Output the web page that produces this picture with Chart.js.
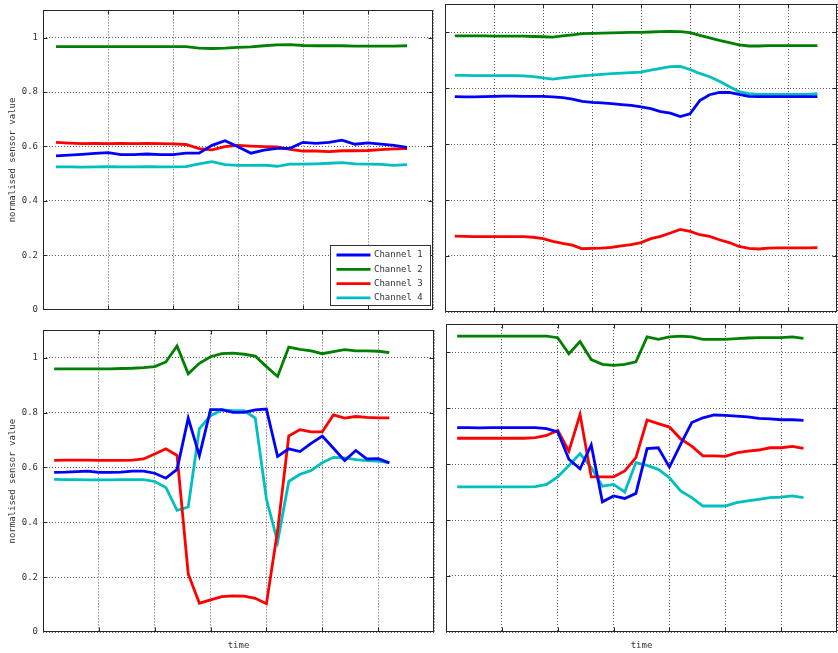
<!DOCTYPE html>
<html>
<head>
<meta charset="utf-8">
<script src="https://cdn.jsdelivr.net/npm/chart.js@4.4.1/dist/chart.umd.min.js"></script>
<style>
  html, body { margin: 0; padding: 0; background: #fff; }
  body { width: 838px; height: 653px; position: relative; overflow: hidden; }
  .panel { position: absolute; }
</style>
</head>
<body>
<div class="panel" id="p1" style="left:0;top:0;width:440px;height:320px"><canvas id="c1"></canvas></div>
<div class="panel" id="p2" style="left:440px;top:0;width:398px;height:320px"><canvas id="c2"></canvas></div>
<div class="panel" id="p3" style="left:0;top:320px;width:440px;height:333px"><canvas id="c3"></canvas></div>
<div class="panel" id="p4" style="left:440px;top:320px;width:398px;height:333px"><canvas id="c4"></canvas></div>
<script>
// channel names / colours
const channelLabels = ["Channel 1", "Channel 2", "Channel 3", "Channel 4"];
const channelColors = ["#0000ff", "#008000", "#ff0000", "#00bfbf"];

// y axis ticks
const yMin = 0;
const yMax = 1.1;
const yStep = 0.2;
const xStep = 5;

// panel 1 (top left), samples 1..28
const tlCh1 = [0.565, 0.568, 0.571, 0.574, 0.577, 0.570, 0.570, 0.572, 0.570, 0.570, 0.575, 0.575, 0.604, 0.621, 0.599, 0.575, 0.586, 0.593, 0.593, 0.615, 0.611, 0.615, 0.623, 0.608, 0.613, 0.608, 0.604, 0.596];
const tlCh2 = [0.967, 0.967, 0.967, 0.967, 0.967, 0.967, 0.967, 0.967, 0.967, 0.967, 0.967, 0.961, 0.960, 0.961, 0.964, 0.966, 0.970, 0.973, 0.974, 0.971, 0.970, 0.970, 0.970, 0.969, 0.969, 0.969, 0.969, 0.970];
const tlCh3 = [0.615, 0.612, 0.610, 0.611, 0.610, 0.611, 0.610, 0.611, 0.610, 0.609, 0.607, 0.592, 0.587, 0.599, 0.604, 0.601, 0.599, 0.598, 0.589, 0.583, 0.583, 0.581, 0.584, 0.584, 0.585, 0.588, 0.591, 0.592];
const tlCh4 = [0.525, 0.525, 0.524, 0.525, 0.526, 0.525, 0.525, 0.526, 0.525, 0.525, 0.526, 0.536, 0.544, 0.533, 0.530, 0.530, 0.531, 0.527, 0.535, 0.535, 0.536, 0.538, 0.540, 0.536, 0.535, 0.534, 0.530, 0.533];

// panel 2 (top right), samples 1..38
const trCh1 = [0.769, 0.768, 0.768, 0.769, 0.770, 0.771, 0.771, 0.770, 0.770, 0.770, 0.768, 0.766, 0.760, 0.752, 0.749, 0.747, 0.744, 0.741, 0.738, 0.733, 0.726, 0.716, 0.710, 0.698, 0.708, 0.755, 0.776, 0.784, 0.784, 0.777, 0.770, 0.769, 0.769, 0.769, 0.769, 0.769, 0.769, 0.769];
const trCh2 = [0.986, 0.986, 0.986, 0.986, 0.985, 0.985, 0.985, 0.985, 0.984, 0.983, 0.982, 0.986, 0.990, 0.994, 0.995, 0.996, 0.997, 0.998, 0.999, 0.999, 1.000, 1.001, 1.002, 1.001, 0.998, 0.988, 0.979, 0.970, 0.962, 0.954, 0.950, 0.950, 0.951, 0.951, 0.951, 0.951, 0.951, 0.951];
const trCh3 = [0.271, 0.270, 0.269, 0.269, 0.269, 0.269, 0.269, 0.269, 0.267, 0.262, 0.252, 0.245, 0.239, 0.226, 0.227, 0.228, 0.231, 0.236, 0.241, 0.248, 0.262, 0.270, 0.282, 0.295, 0.288, 0.276, 0.270, 0.258, 0.248, 0.234, 0.227, 0.225, 0.228, 0.229, 0.229, 0.229, 0.229, 0.230];
const trCh4 = [0.845, 0.845, 0.844, 0.844, 0.844, 0.844, 0.844, 0.843, 0.841, 0.836, 0.832, 0.836, 0.840, 0.843, 0.846, 0.849, 0.851, 0.853, 0.855, 0.857, 0.864, 0.870, 0.876, 0.877, 0.866, 0.852, 0.840, 0.824, 0.805, 0.787, 0.780, 0.777, 0.777, 0.777, 0.777, 0.777, 0.777, 0.780];

// panel 3 (bottom left), samples 1..31
const blCh1 = [0.582, 0.583, 0.585, 0.587, 0.582, 0.582, 0.583, 0.587, 0.587, 0.579, 0.561, 0.593, 0.780, 0.643, 0.811, 0.811, 0.801, 0.801, 0.810, 0.813, 0.640, 0.668, 0.658, 0.688, 0.715, 0.670, 0.625, 0.662, 0.631, 0.632, 0.617];
const blCh2 = [0.960, 0.960, 0.960, 0.960, 0.960, 0.960, 0.961, 0.962, 0.964, 0.968, 0.985, 1.043, 0.942, 0.980, 1.004, 1.015, 1.017, 1.013, 1.006, 0.968, 0.932, 1.039, 1.031, 1.025, 1.015, 1.023, 1.030, 1.025, 1.025, 1.024, 1.019];
const blCh3 = [0.626, 0.627, 0.627, 0.627, 0.626, 0.626, 0.626, 0.627, 0.631, 0.649, 0.668, 0.644, 0.212, 0.105, 0.117, 0.129, 0.132, 0.131, 0.123, 0.103, 0.370, 0.715, 0.738, 0.730, 0.730, 0.792, 0.780, 0.786, 0.783, 0.781, 0.781];
const blCh4 = [0.557, 0.556, 0.556, 0.555, 0.555, 0.555, 0.556, 0.556, 0.556, 0.549, 0.527, 0.444, 0.456, 0.742, 0.789, 0.810, 0.807, 0.807, 0.780, 0.485, 0.329, 0.549, 0.575, 0.589, 0.617, 0.637, 0.635, 0.629, 0.625, 0.623, 0.618];

// panel 4 (bottom right), samples 1..32
const brCh1 = [0.730, 0.730, 0.729, 0.730, 0.730, 0.730, 0.730, 0.730, 0.726, 0.715, 0.617, 0.583, 0.668, 0.465, 0.486, 0.477, 0.495, 0.655, 0.658, 0.589, 0.670, 0.748, 0.765, 0.775, 0.774, 0.771, 0.768, 0.763, 0.761, 0.758, 0.758, 0.756];
const brCh2 = [1.057, 1.057, 1.057, 1.057, 1.057, 1.057, 1.057, 1.057, 1.057, 1.051, 0.994, 1.037, 0.973, 0.956, 0.952, 0.956, 0.965, 1.054, 1.045, 1.054, 1.057, 1.054, 1.045, 1.045, 1.045, 1.048, 1.050, 1.051, 1.051, 1.051, 1.054, 1.049];
const brCh3 = [0.692, 0.692, 0.692, 0.692, 0.692, 0.692, 0.692, 0.694, 0.702, 0.720, 0.646, 0.777, 0.554, 0.554, 0.554, 0.575, 0.623, 0.757, 0.744, 0.732, 0.690, 0.664, 0.629, 0.629, 0.627, 0.640, 0.646, 0.650, 0.658, 0.658, 0.663, 0.656];
const brCh4 = [0.518, 0.518, 0.518, 0.518, 0.518, 0.518, 0.518, 0.519, 0.527, 0.554, 0.595, 0.637, 0.587, 0.521, 0.527, 0.500, 0.605, 0.595, 0.581, 0.551, 0.504, 0.480, 0.450, 0.450, 0.450, 0.462, 0.468, 0.474, 0.480, 0.482, 0.486, 0.480];

const yTitle = "normalised sensor value";
const xTitle = "time";

Chart.defaults.font.family = "'DejaVu Sans Mono', 'Liberation Mono', monospace";
Chart.defaults.font.size = 9;
Chart.defaults.color = "#333";

// MATLAB-like box with inward ticks on all four sides
const boxPlugin = {
  id: "axesBox",
  afterDraw(chart) {
    const { ctx, chartArea: a, scales } = chart;
    const L = Math.round(a.left) + 0.5, R = Math.round(a.right) - 0.5;
    const T = Math.round(a.top) + 0.5, B = Math.round(a.bottom) - 0.5;
    ctx.save();
    ctx.strokeStyle = "#262626";
    ctx.lineWidth = 1;
    ctx.beginPath();
    scales.x.ticks.forEach((t) => {
      if (t.value <= scales.x.min || t.value >= scales.x.max) return;
      const px = Math.round(scales.x.getPixelForValue(t.value)) + 0.5;
      ctx.moveTo(px, B); ctx.lineTo(px, B - 4);
      ctx.moveTo(px, T); ctx.lineTo(px, T + 4);
    });
    scales.y.ticks.forEach((t) => {
      if (t.value <= scales.y.min || t.value >= scales.y.max) return;
      const py = Math.round(scales.y.getPixelForValue(t.value)) + 0.5;
      ctx.moveTo(L, py); ctx.lineTo(L + 4, py);
      ctx.moveTo(R, py); ctx.lineTo(R - 4, py);
    });
    ctx.stroke();
    ctx.strokeRect(L, T, R - L, B - T);
    ctx.restore();
  },
};

// legend box in lower right of the chart area
const legendPlugin = {
  id: "insideLegend",
  afterDraw(chart, args, opts) {
    if (!opts.show) return;
    const { ctx, chartArea: a } = chart;
    const w = 100, h = 60;
    const x = Math.round(a.right - 103) + 0.5;
    const y = Math.round(a.bottom - 65) + 0.5;
    ctx.save();
    ctx.fillStyle = "#fff";
    ctx.fillRect(x, y, w, h);
    ctx.strokeStyle = "#333";
    ctx.lineWidth = 1;
    ctx.strokeRect(x, y, w, h);
    ctx.font = "9px 'DejaVu Sans Mono', monospace";
    ctx.textBaseline = "middle";
    chart.data.datasets.forEach((ds, k) => {
      const ry = y + 9.5 + k * 14.3;
      ctx.strokeStyle = ds.borderColor;
      ctx.lineWidth = 2.8;
      ctx.beginPath();
      ctx.moveTo(x + 6, ry);
      ctx.lineTo(x + 40, ry);
      ctx.stroke();
      ctx.fillStyle = "#333";
      ctx.fillText(ds.label, x + 43.5, ry);
    });
    ctx.restore();
  },
};

function makePanel(canvasId, series, cfg) {
  const datasets = series.map((vals, k) => ({
    label: channelLabels[k],
    data: vals.map((v, i) => ({ x: i + 1, y: v })),
    borderColor: channelColors[k],
    backgroundColor: channelColors[k],
    borderWidth: 2.8,
    pointRadius: 0,
    tension: 0,
    fill: false,
  }));

  new Chart(document.getElementById(canvasId), {
    type: "line",
    data: { datasets: datasets },
    plugins: [boxPlugin, legendPlugin],
    options: {
      responsive: true,
      maintainAspectRatio: false,
      animation: false,
      layout: { padding: { top: 4, right: cfg.padRight, left: 0, bottom: 0 } },
      plugins: {
        legend: { display: false },
        tooltip: { enabled: false },
        insideLegend: { show: !!cfg.legend },
      },
      scales: {
        x: {
          type: "linear",
          min: 0,
          max: cfg.xMax,
          ticks: { display: false, stepSize: xStep },
          grid: { color: "rgba(0,0,0,0.65)", drawTicks: false },
          border: { display: false, dash: [1, 2] },
          title: {
            display: !!cfg.xTitle,
            text: xTitle,
            color: "#333",
            font: { size: 9 },
            padding: { top: 0, bottom: 2 },
          },
          afterFit(scale) { scale.height = cfg.xHeight; },
        },
        y: {
          min: yMin,
          max: yMax,
          ticks: {
            display: !!cfg.yLabels,
            stepSize: yStep,
            includeBounds: false,
            padding: 5,
            color: "#333",
            font: { size: 9 },
            callback: (v) => String(Math.round(v * 10) / 10),
          },
          grid: { color: "rgba(0,0,0,0.65)", drawTicks: false },
          border: { display: false, dash: [1, 2] },
          title: {
            display: !!cfg.yLabels,
            text: yTitle,
            color: "#333",
            font: { size: 9 },
            padding: { top: 7, bottom: 0 },
          },
          afterFit(scale) { scale.width = cfg.yWidth; },
        },
      },
    },
  });
}

makePanel("c1", [tlCh1, tlCh2, tlCh3, tlCh4], { xMax: 30, yWidth: 43, xHeight: 8, padRight: 7, yLabels: true, legend: true });
makePanel("c2", [trCh1, trCh2, trCh3, trCh4], { xMax: 40, yWidth: 5, xHeight: 8, padRight: 1 });
makePanel("c3", [blCh1, blCh2, blCh3, blCh4], { xMax: 35, yWidth: 43, xHeight: 21, padRight: 6, yLabels: true, xTitle: true });
makePanel("c4", [brCh1, brCh2, brCh3, brCh4], { xMax: 35, yWidth: 6, xHeight: 21, padRight: 1, xTitle: true });
</script>
</body>
</html>
